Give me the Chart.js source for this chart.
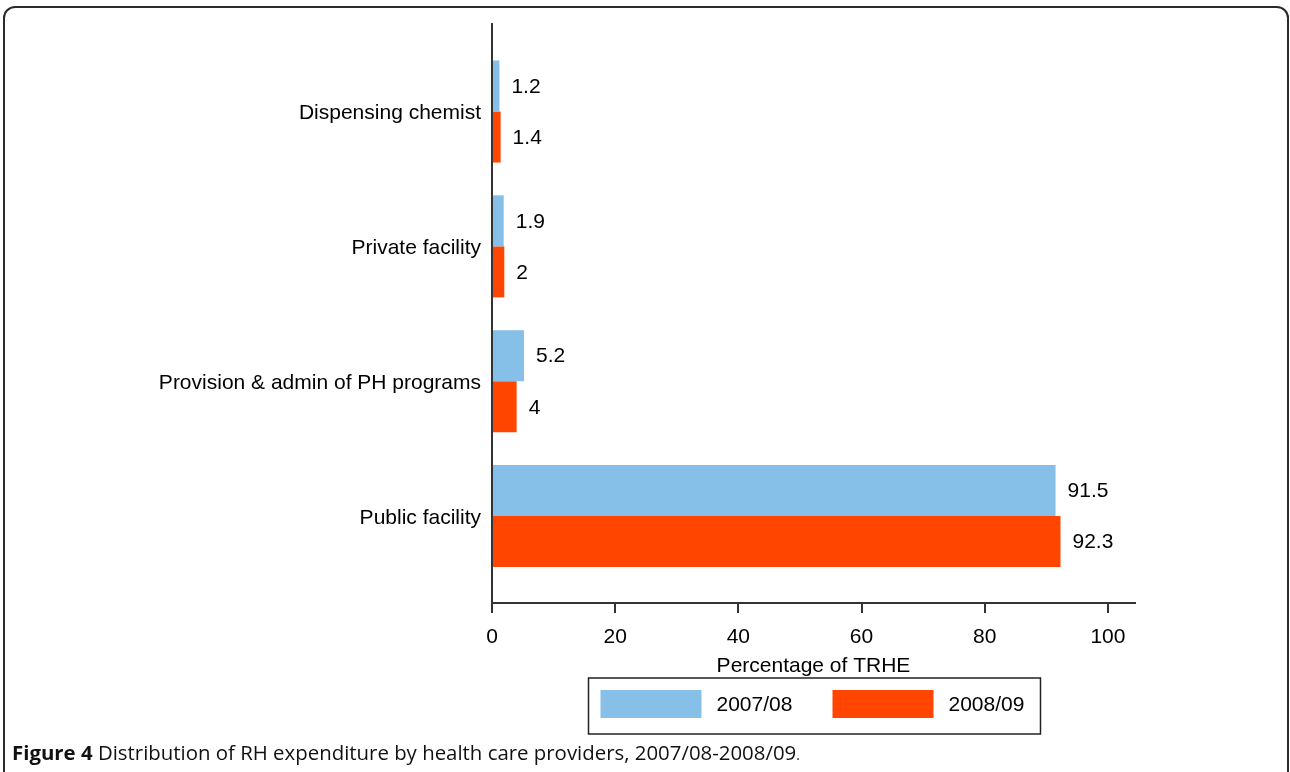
<!DOCTYPE html>
<html>
<head>
<meta charset="utf-8">
<script src="https://cdn.jsdelivr.net/npm/chart.js@4.4.1/dist/chart.umd.min.js"></script>
<style>
  html, body { margin: 0; padding: 0; background: #fff; overflow: hidden; }
  #frame {
    position: absolute; left: 3px; top: 6px; width: 1286px; height: 820px;
    border: 2px solid #2b2b2b; border-radius: 12px; box-sizing: border-box;
  }
  #wrap { position: absolute; left: 0; top: 0; width: 1290px; height: 740px; }
  #caption {
    position: absolute; left: 12px; top: 740px; line-height: 24px;
    font-family: "Open Sans", "Noto Sans", sans-serif; font-size: 20.4px; color: #111;
    white-space: nowrap;
  }
  #caption b { font-weight: 700; }
  #caption .dot { font-size: 14px; }
</style>
</head>
<body>
<div id="frame"></div>
<div id="wrap"><canvas id="chart"></canvas></div>
<div id="caption"><b>Figure 4</b> Distribution of RH expenditure by health care providers, 2007/08-2008/09<span class="dot">.</span></div>
<script>
// categories, top to bottom
const categories = ['Dispensing chemist', 'Private facility', 'Provision & admin of PH programs', 'Public facility'];
const values0708 = [1.2, 1.9, 5.2, 91.5];
const values0809 = [1.4, 2, 4, 92.3];
const xTicks = [0, 20, 40, 60, 80, 100];
const seriesLabels = ['2007/08', '2008/09'];
const seriesColors = ['#86BFE8', '#FF4500'];

const FONT = 'Arial, "Liberation Sans", sans-serif';

// value labels next to each bar
const valueLabels = {
  id: 'valueLabels',
  afterDatasetsDraw(chart) {
    const ctx = chart.ctx;
    ctx.save();
    ctx.font = '21px ' + FONT;
    ctx.fillStyle = '#000';
    ctx.textBaseline = 'middle';
    ctx.textAlign = 'left';
    chart.data.datasets.forEach((ds, i) => {
      chart.getDatasetMeta(i).data.forEach((bar, j) => {
        ctx.fillText(String(ds.data[j].x), bar.x + 12, bar.y + 1);
      });
    });
    ctx.restore();
  }
};

// boxed legend under the axis title
const boxLegend = {
  id: 'boxLegend',
  afterDraw(chart) {
    const ctx = chart.ctx;
    const area = chart.chartArea;
    const cx = (area.left + area.right) / 2 + 1;
    const left = cx - 226, top = area.bottom + 75;
    ctx.save();
    ctx.strokeStyle = '#222';
    ctx.lineWidth = 1.5;
    ctx.strokeRect(left, top, 452, 56);
    ctx.font = '21px ' + FONT;
    ctx.textBaseline = 'middle';
    ctx.textAlign = 'left';
    chart.data.datasets.forEach((ds, i) => {
      const x = left + 12 + i * 232;
      ctx.fillStyle = ds.backgroundColor;
      ctx.fillRect(x, top + 12, 101, 28);
      ctx.fillStyle = '#000';
      ctx.fillText(ds.label, x + 116, top + 27);
    });
    ctx.restore();
  }
};

new Chart(document.getElementById('chart'), {
  type: 'bar',
  data: {
    datasets: [
      {
        label: seriesLabels[0],
        data: values0708.map((v, i) => ({ x: v, y: i })),
        backgroundColor: seriesColors[0]
      },
      {
        label: seriesLabels[1],
        data: values0809.map((v, i) => ({ x: v, y: i })),
        backgroundColor: seriesColors[1]
      }
    ]
  },
  options: {
    indexAxis: 'y',
    responsive: true,
    maintainAspectRatio: false,
    animation: false,
    categoryPercentage: 0.757,
    barPercentage: 1,
    layout: { padding: { left: 0, right: 155, top: 24, bottom: 50 } },
    plugins: {
      legend: { display: false },
      tooltip: { enabled: false }
    },
    scales: {
      x: {
        type: 'linear',
        min: 0,
        max: 104.4,
        afterBuildTicks: (scale) => { scale.ticks = xTicks.map(v => ({ value: v })); },
        afterFit: (scale) => { scale.height = 87; },
        border: { color: '#333', width: 2 },
        grid: { drawOnChartArea: false, drawTicks: true, tickLength: 10, color: '#333', lineWidth: 2 },
        ticks: { color: '#000', font: { family: FONT, size: 21 }, padding: 12, maxRotation: 0 },
        title: {
          display: true, text: 'Percentage of TRHE', color: '#000',
          font: { family: FONT, size: 21 }, padding: { top: 0, bottom: 11 }
        }
      },
      y: {
        type: 'linear',
        reverse: true,
        offset: false,
        min: -0.649,
        max: 3.645,
        afterBuildTicks: (scale) => { scale.ticks = categories.map((c, i) => ({ value: i })); },
        afterFit: (scale) => { scale.width = 492; },
        border: { color: '#333', width: 2 },
        grid: { display: false, drawTicks: false },
        ticks: {
          color: '#000', font: { family: FONT, size: 21 }, padding: 11, autoSkip: false,
          labelOffset: 2,
          callback: (v) => categories[v]
        }
      }
    }
  },
  plugins: [valueLabels, boxLegend]
});
</script>
</body>
</html>
